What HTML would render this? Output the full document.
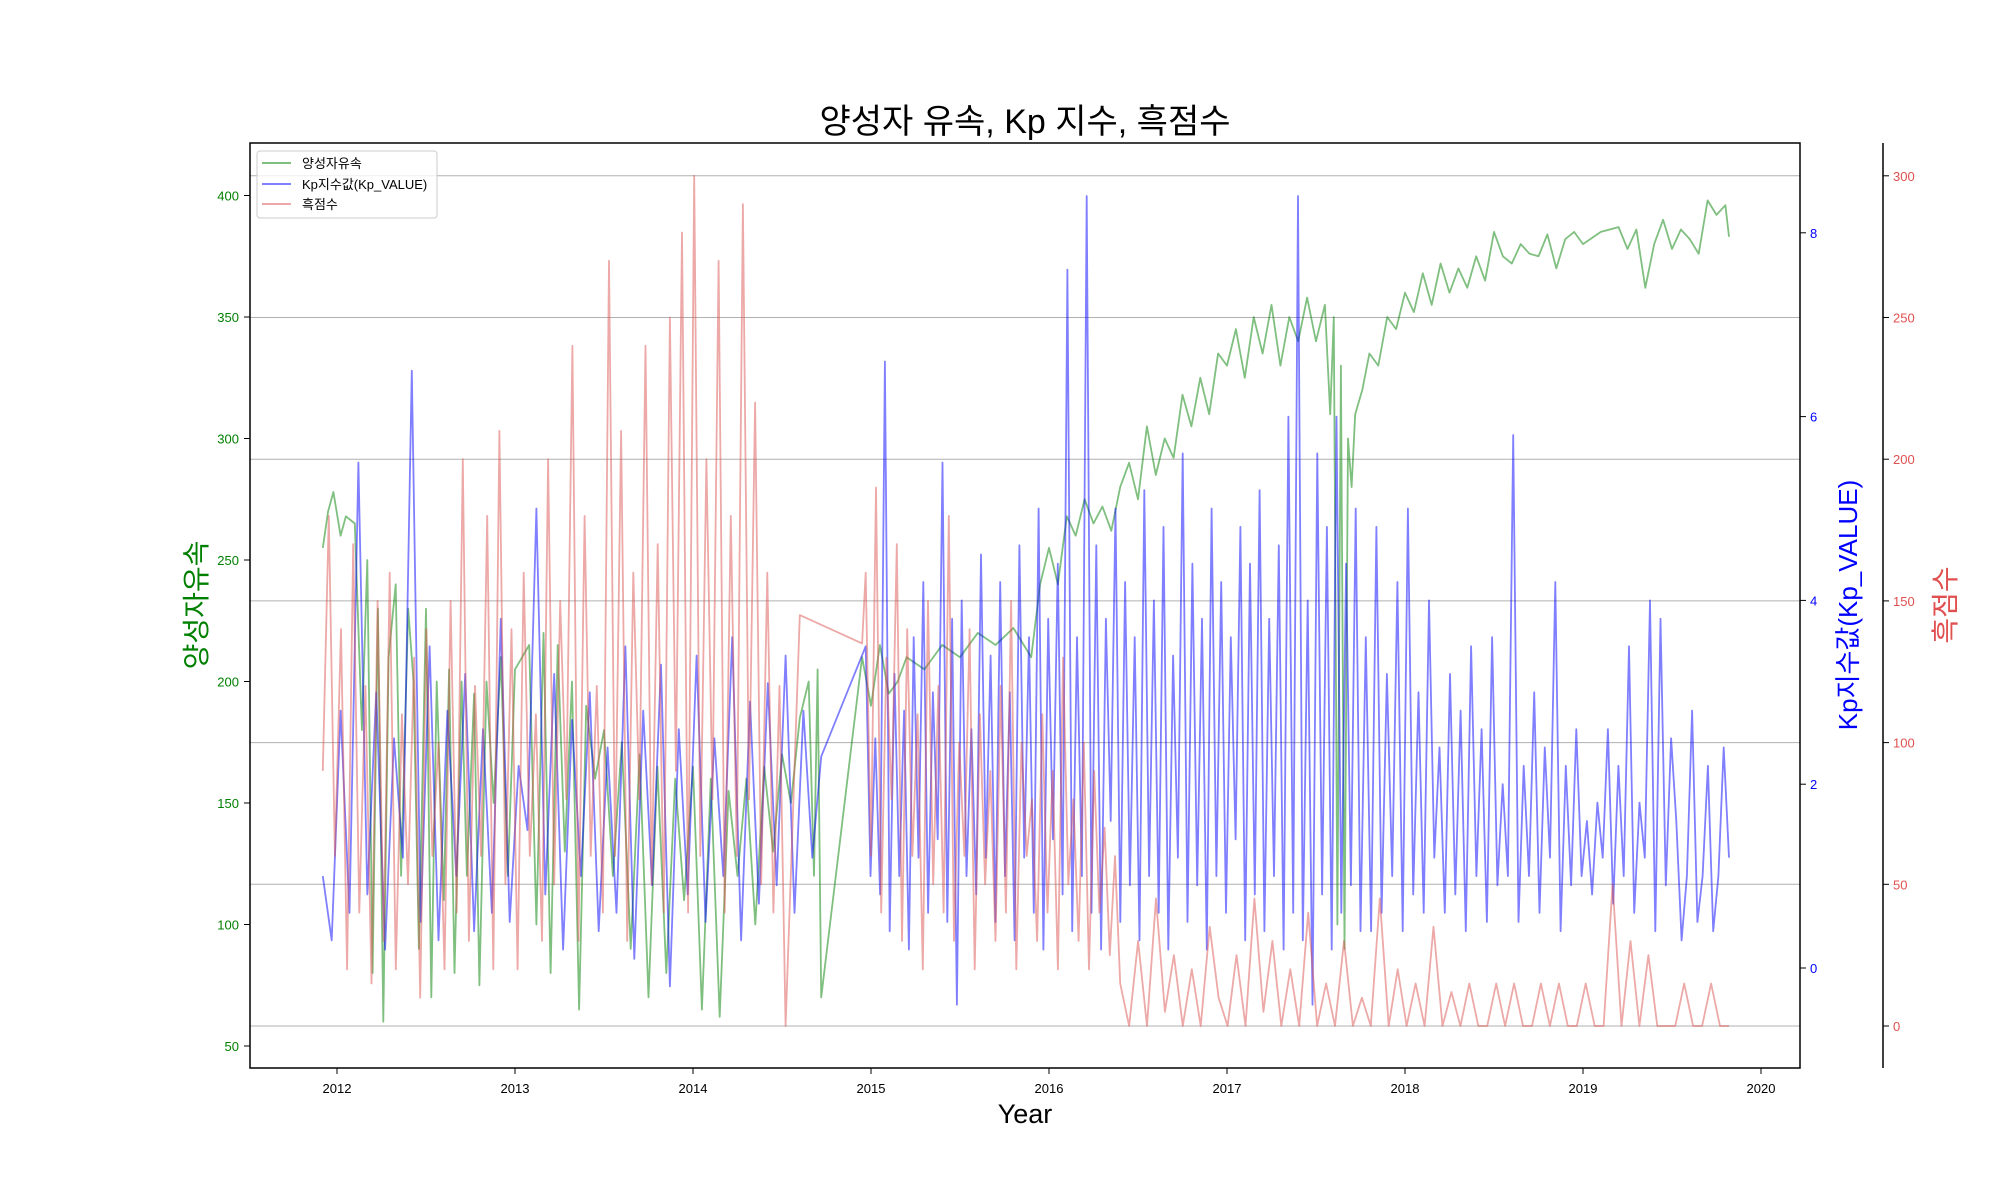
<!DOCTYPE html>
<html><head><meta charset="utf-8"><style>
body{margin:0;background:#fff}
svg{display:block;font-family:"Liberation Sans","Noto Sans CJK KR",sans-serif}
</style></head><body>
<svg id="chart" width="2000" height="1200" viewBox="0 0 2000 1200">
<text x="1025" y="133" font-size="34" text-anchor="middle">양성자 유속, Kp 지수, 흑점수</text>
<g id="grid"></g>
<g id="series"></g>
<rect x="250" y="143" width="1550" height="925" fill="none" stroke="#000" stroke-width="1.5"/>
<g id="axes"></g>
<text x="1025" y="1123" font-size="27" text-anchor="middle">Year</text>
<text transform="translate(206,605) rotate(-90)" font-size="28" fill="green" text-anchor="middle">양성자유속</text>
<text transform="translate(1857,605) rotate(-90)" font-size="26" fill="blue" text-anchor="middle">Kp지수값(Kp_VALUE)</text>
<text transform="translate(1955,605) rotate(-90)" font-size="28" fill="#e05050" text-anchor="middle">흑점수</text>
<g>
<rect x="257" y="151" width="180" height="67" rx="3" fill="#fff" fill-opacity="0.8" stroke="#ccc"/>
<line x1="262" y1="163" x2="291" y2="163" stroke="green" stroke-opacity="0.5" stroke-width="2"/>
<text x="302" y="168" font-size="13">양성자유속</text>
<line x1="262" y1="184" x2="291" y2="184" stroke="blue" stroke-opacity="0.5" stroke-width="2"/>
<text x="302" y="189" font-size="13">Kp지수값(Kp_VALUE)</text>
<line x1="262" y1="204" x2="291" y2="204" stroke="#d9544f" stroke-opacity="0.5" stroke-width="2"/>
<text x="302" y="209" font-size="13">흑점수</text>
</g>
</svg>
<script>
const xTicks=[2012,2013,2014,2015,2016,2017,2018,2019,2020];
const greenTicks=[50,100,150,200,250,300,350,400];
const kpTicks=[0,2,4,6,8];
const redTicks=[0,50,100,150,200,250,300];
const greenDates=[2011.92,2011.95,2011.98,2012.02,2012.05,2012.1,2012.14,2012.17,2012.2,2012.23,2012.26,2012.29,2012.33,2012.36,2012.4,2012.43,2012.46,2012.5,2012.53,2012.56,2012.6,2012.63,2012.66,2012.7,2012.73,2012.77,2012.8,2012.84,2012.88,2012.92,2012.96,2013.0,2013.04,2013.08,2013.12,2013.16,2013.2,2013.24,2013.28,2013.32,2013.36,2013.4,2013.45,2013.5,2013.55,2013.6,2013.65,2013.7,2013.75,2013.8,2013.85,2013.9,2013.95,2014.0,2014.05,2014.1,2014.15,2014.2,2014.25,2014.3,2014.35,2014.4,2014.45,2014.5,2014.55,2014.6,2014.65,2014.68,2014.7,2014.72,2014.95,2015.0,2015.05,2015.1,2015.15,2015.2,2015.3,2015.4,2015.5,2015.6,2015.7,2015.8,2015.9,2015.95,2016.0,2016.05,2016.1,2016.15,2016.2,2016.25,2016.3,2016.35,2016.4,2016.45,2016.5,2016.55,2016.6,2016.65,2016.7,2016.75,2016.8,2016.85,2016.9,2016.95,2017.0,2017.05,2017.1,2017.15,2017.2,2017.25,2017.3,2017.35,2017.4,2017.45,2017.5,2017.55,2017.58,2017.6,2017.62,2017.64,2017.66,2017.68,2017.7,2017.72,2017.76,2017.8,2017.85,2017.9,2017.95,2018.0,2018.05,2018.1,2018.15,2018.2,2018.25,2018.3,2018.35,2018.4,2018.45,2018.5,2018.55,2018.6,2018.65,2018.7,2018.75,2018.8,2018.85,2018.9,2018.95,2019.0,2019.1,2019.2,2019.25,2019.3,2019.35,2019.4,2019.45,2019.5,2019.55,2019.6,2019.65,2019.7,2019.75,2019.8,2019.82];
const greenValues=[255,270,278,260,268,265,180,250,80,230,60,210,240,120,230,200,90,230,70,200,110,205,80,200,120,195,75,200,150,210,120,205,210,215,100,220,80,215,130,200,65,190,160,180,120,175,90,170,70,165,80,160,110,165,65,160,62,155,120,160,100,165,130,170,150,185,200,120,205,70,210,190,215,195,200,210,205,215,210,220,215,222,210,240,255,240,268,260,275,265,272,262,280,290,275,305,285,300,292,318,305,325,310,335,330,345,325,350,335,355,330,350,340,358,340,355,310,350,100,330,90,300,280,310,320,335,330,350,345,360,352,368,355,372,360,370,362,375,365,385,375,372,380,376,375,384,370,382,385,380,385,387,378,386,362,380,390,378,386,382,376,398,392,396,383];
const kpSeg1=[1.0,0.3,2.8,0.6,5.5,0.8,3.0,0.2,2.5,1.2,6.5,0.5,3.5,0.3,2.8,1.0,3.2,0.4,2.6,0.6,3.8,0.5,2.2,1.5,5.0,0.8,3.2,0.2,2.7,1.0,3.0,0.4,2.4,0.6,3.5,0.1,2.8,0.9,3.3,-0.2,2.6,0.8,3.4,0.5,2.5,1.0,3.6,0.3,2.9,0.7,3.1,0.9,3.4,0.6,2.8,1.2,2.3];
const kpSeg2=[3.5,1.0,2.5,0.8,6.6,0.4,3.2,1.0,2.8,0.2,3.6,1.2,4.2,0.6,3.0,1.4,5.5,0.5,3.8,-0.4,4.0,1.0,2.6,0.8,4.5,1.2,3.4,0.5,4.2,1.0,3.0,0.3,4.6,1.2,3.6,0.6,5.0,0.2,3.8,1.4,4.4,0.8,7.6,0.4,3.6,1.0,8.4,0.6,4.6,0.2,3.8,1.6,5.0,0.5,4.2,0.9,3.6,0.3,5.2,1.0,4.0,0.6,4.8,0.2,3.4,1.2,5.6,0.5,4.4,0.9,3.8,0.2,5.0,1.0,4.2,0.6,3.6,1.4,4.8,0.3,4.4,0.8,5.2,0.4,3.8,1.0,4.6,0.2,6.0,0.6,8.4,0.3,4.0,-0.4,5.6,0.8,4.8,0.2,6.0,0.6,4.4,0.9,5.0,0.4];
const kpSeg3=[3.6,0.4,4.8,0.6,3.2,1.0,4.2,0.4,5.0,0.8,3.0,0.6,4.0,1.2,2.4,0.6,3.2,0.8,2.8,0.4,3.5,1.0,2.6,0.5,3.6,0.9,2.0,1.0,5.8,0.5,2.2,1.0,3.0,0.6,2.4,1.2,4.2,0.4,2.2,0.9,2.6,1.0,1.6,0.8,1.8,1.2,2.6,0.7,2.2,1.0,3.5,0.6,1.8,1.2,4.0,0.4,3.8,0.9,2.5,1.6,0.3,1.0,2.8,0.5,1.0,2.2,0.4,1.0,2.4,1.2];
const kpSegRanges=[[2011.92,2014.72],[2014.97,2017.75],[2017.78,2019.82]];
const redSeg1=[90,180,60,140,20,170,40,120,15,150,30,160,20,110,50,130,10,140,60,100,20,150,40,200,30,120,60,180,20,210,50,140,20,160,60,110,30,200,50,150,80,240,30,180,60,120,40,270,60,210,30,160,80,240,50,170,40,250,90,280,40,300,60,200,80,270,40,180,60,290,80,220,50,160,40,120,0];
const redSegB=[145,135];
const redSeg2=[160,60,190,40,130,80,170,30,140,60,110,20,150,50,120,40,180,30,100,60,140,20,110,50,90,30,120,40,150,20,100,60,80,30,110,40,90,20,130,50,80,30,100,20,90,40,70,25,60,15];
const redSeg3=[0,30,0,45,5,25,0,20,0,35,10,0,25,0,45,5,30,0,20,0,40,0,15,0,30,0,10,0,45,0,20,0,15,0,35,0,12,0,15,0,0,15,0,15,0,0,15,0,15,0,0,15,0,0,50,0,30,0,25,0,0,0,15,0,0,15,0,0];
const redSegRanges=[[2011.92,2014.52],[2014.6,2014.95],[2014.97,2016.4],[2016.45,2019.82]];

const NS='http://www.w3.org/2000/svg';
const xS=d=>337+(d-2012)*178;
const gS=v=>195.5+(400-v)*2.43;
const kS=v=>968-v*91.9;
const rS=v=>1026-v*2.834;
function mk(tag,attrs,parent){const e=document.createElementNS(NS,tag);for(const k in attrs)e.setAttribute(k,attrs[k]);parent.appendChild(e);return e;}
const grid=document.getElementById('grid'),axes=document.getElementById('axes'),series=document.getElementById('series');
redTicks.forEach(v=>{const l=mk('line',{x1:250,x2:1800,y1:rS(v),y2:rS(v),stroke:'#b0b0b0','stroke-width':1},grid);

});
xTicks.forEach(v=>{const x=xS(v);const l=mk('line',{x1:x,x2:x,y1:1068,y2:1074,stroke:'#000'},axes);


const t=mk('text',{x:x,y:1093,'font-size':13,'text-anchor':'middle'},axes);t.textContent=v;

});
greenTicks.forEach(v=>{const y=gS(v);const l=mk('line',{x1:244,x2:250,y1:y,y2:y,stroke:'#000'},axes);


const t=mk('text',{x:239,y:y+5,'font-size':13,'text-anchor':'end',fill:'green'},axes);t.textContent=v;

});
kpTicks.forEach(v=>{const y=kS(v);const l=mk('line',{x1:1800,x2:1806,y1:y,y2:y,stroke:'#000'},axes);


const t=mk('text',{x:1810,y:y+5,'font-size':13,fill:'blue'},axes);t.textContent=v;

});
const sp=mk('line',{x1:1883,x2:1883,y1:143,y2:1068,stroke:'#000','stroke-width':1.5},axes);


redTicks.forEach(v=>{const y=rS(v);const l=mk('line',{x1:1883,x2:1889,y1:y,y2:y,stroke:'#000'},axes);


const t=mk('text',{x:1893,y:y+5,'font-size':13,fill:'#e05050'},axes);t.textContent=v;

});
function seg(vals,r){return vals.map((v,i)=>[r[0]+(r[1]-r[0])*i/(vals.length-1),v]);}
function path(pts,ys,color,op,name){const d=pts.map((p,i)=>(i?'L':'M')+xS(p[0]).toFixed(1)+','+ys(p[1]).toFixed(1)).join('');
const e=mk('path',{d:d,fill:'none',stroke:color,'stroke-opacity':op,'stroke-width':1.8,'stroke-linejoin':'round'},series);

}
path(greenDates.map((d,i)=>[d,greenValues[i]]),gS,'green',0.5,'proton-flux-line');
path(seg(kpSeg1,kpSegRanges[0]).concat(seg(kpSeg2,kpSegRanges[1]),seg(kpSeg3,kpSegRanges[2])),kS,'blue',0.5,'kp-line');
path(seg(redSeg1,redSegRanges[0]).concat(seg(redSegB,redSegRanges[1]),seg(redSeg2,redSegRanges[2]),seg(redSeg3,redSegRanges[3])),rS,'#d9544f',0.5,'sunspot-line');
</script>
</body></html>
